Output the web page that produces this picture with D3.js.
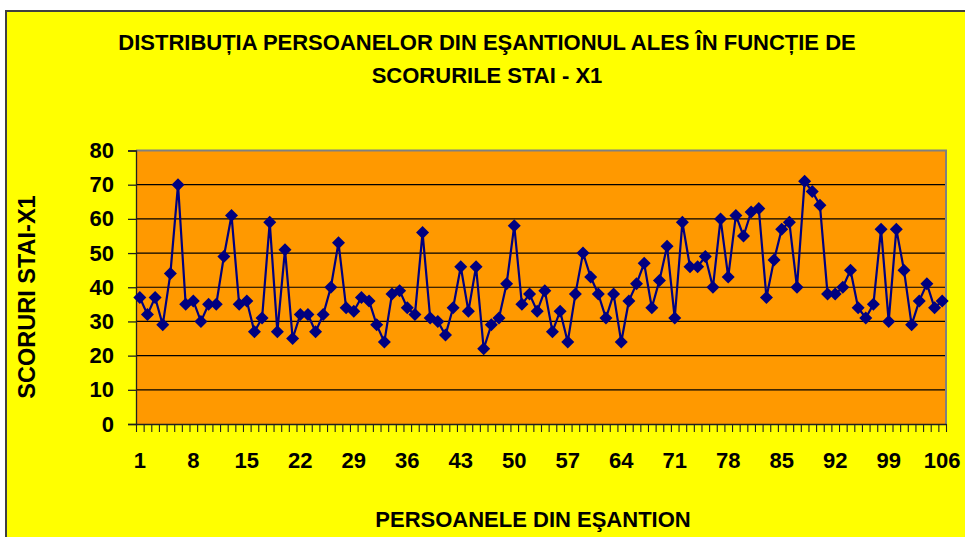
<!DOCTYPE html>
<html lang="ro">
	<head>
		<meta charset="utf-8">
		<title>D3: Distributia persoanelor - STAI X1</title>
		<script type="text/javascript" src="https://cdn.jsdelivr.net/npm/d3@7"></script>
		<style type="text/css">
			body { margin: 0; background: #ffffff; }
			svg { display: block; }
			text { font-family: "Liberation Sans", Arial, sans-serif; font-weight: bold; fill: #000; }
		</style>
	</head>
	<body>
		<script type="text/javascript">

			//Width and height
			var w = 965;
			var h = 537;

			//Data
			var titleLines = ["DISTRIBUȚIA PERSOANELOR DIN EŞANTIONUL ALES ÎN FUNCȚIE DE",
							  "SCORURILE STAI - X1"];
			var xTitle = "PERSOANELE DIN EŞANTION";
			var yTitle = "SCORURI STAI-X1";

			var scores = [37, 32, 37, 29, 44, 70, 35, 36, 30, 35,
						  35, 49, 61, 35, 36, 27, 31, 59, 27, 51,
						  25, 32, 32, 27, 32, 40, 53, 34, 33, 37,
						  36, 29, 24, 38, 39, 34, 32, 56, 31, 30,
						  26, 34, 46, 33, 46, 22, 29, 31, 41, 58,
						  35, 38, 33, 39, 27, 33, 24, 38, 50, 43,
						  38, 31, 38, 24, 36, 41, 47, 34, 42, 52,
						  31, 59, 46, 46, 49, 40, 60, 43, 61, 55,
						  62, 63, 37, 48, 57, 59, 40, 71, 68, 64,
						  38, 38, 40, 45, 34, 31, 35, 57, 30, 57,
						  45, 29, 36, 41, 34, 36];

			var persons = d3.range(1, scores.length + 1);   //1..106
			var xTickLabels = [1, 8, 15, 22, 29, 36, 43, 50, 57, 64, 71, 78, 85, 92, 99, 106];
			var yTicks = [0, 10, 20, 30, 40, 50, 60, 70, 80];

			//plot area ("top" is taken by window.top, so prefixed names)
			var plotLeft = 136, plotRight = 946, plotTop = 150.5, plotBottom = 424;

			//Create SVG element
			var svg = d3.select("body")
						.append("svg")
						.attr("width", w)
						.attr("height", h);

			//chart area (yellow), border runs off the picture right and bottom
			svg.append("rect")
			   .attr("x", 6)
			   .attr("y", 11)
			   .attr("width", w + 10)
			   .attr("height", h + 10)
			   .attr("fill", "#ffff00")
			   .attr("stroke", "#404040")
			   .attr("stroke-width", 2);

			var xScale = d3.scaleBand()
						   .domain(persons)
						   .range([plotLeft, plotRight]);

			//category boundaries, for the tick marks
			var xEdges = d3.scaleLinear()
						   .domain([0, persons.length])
						   .range([plotLeft, plotRight]);

			var yScale = d3.scaleLinear()
						   .domain([0, 80])
						   .range([plotBottom, plotTop]);

			//plot background
			svg.append("rect")
			   .attr("x", plotLeft)
			   .attr("y", plotTop)
			   .attr("width", plotRight - plotLeft)
			   .attr("height", plotBottom - plotTop)
			   .attr("fill", "#ff9900");

			//gridlines
			svg.append("g")
			   .selectAll("line")
			   .data(yTicks.slice(1, -1))
			   .enter()
			   .append("line")
			   .attr("x1", plotLeft)
			   .attr("x2", plotRight)
			   .attr("y1", function(d) { return yScale(d); })
			   .attr("y2", function(d) { return yScale(d); })
			   .attr("stroke", "#000")
			   .attr("stroke-width", 1.2);

			//gray border top and right
			svg.append("path")
			   .attr("d", "M" + plotLeft + "," + plotTop + "H" + plotRight + "V" + plotBottom)
			   .attr("fill", "none")
			   .attr("stroke", "#808080")
			   .attr("stroke-width", 2);

			//y axis
			var yAxis = d3.axisLeft(yScale)
						  .tickValues(yTicks)
						  .tickSize(8)
						  .tickPadding(14);

			var gy = svg.append("g")
						.attr("transform", "translate(" + plotLeft + ",0)")
						.call(yAxis);
			gy.selectAll("line, path").attr("stroke", "#202020").attr("stroke-width", 1.3);
			gy.selectAll("text")
			  .attr("font-size", "22px")
			  .attr("font-family", "Liberation Sans, Arial, sans-serif")
			  .attr("font-weight", "bold")
			  .attr("fill", "#000");

			//x axis tick marks at each category boundary
			var xAxis = d3.axisBottom(xEdges)
						  .tickValues(d3.range(persons.length + 1))
						  .tickFormat("")
						  .tickSizeInner(8)
						  .tickSizeOuter(0);

			var gx = svg.append("g")
						.attr("transform", "translate(0," + plotBottom + ")")
						.call(xAxis);
			gx.selectAll("line, path").attr("stroke", "#202020").attr("stroke-width", 1.1);
			gx.select("path").attr("stroke-width", 1.5);

			//x labels, every 7th person, centred on the category
			var xLabelAxis = d3.axisBottom(xScale)
							   .tickValues(xTickLabels)
							   .tickSize(0)
							   .tickPadding(28);

			var gxl = svg.append("g")
						 .attr("transform", "translate(0," + plotBottom + ")")
						 .call(xLabelAxis);
			gxl.select(".domain").remove();
			gxl.selectAll("text")
			   .attr("font-size", "22px")
			   .attr("font-family", "Liberation Sans, Arial, sans-serif")
			   .attr("font-weight", "bold")
			   .attr("fill", "#000");

			//line
			var line = d3.line()
						 .x(function(d, i) { return xScale(persons[i]) + xScale.bandwidth() / 2; })
						 .y(function(d) { return yScale(d); });

			svg.append("path")
			   .datum(scores)
			   .attr("d", line)
			   .attr("fill", "none")
			   .attr("stroke", "#000080")
			   .attr("stroke-width", 2.2);

			//diamond markers
			var dm = 6.5;
			svg.append("g")
			   .selectAll("path")
			   .data(scores)
			   .enter()
			   .append("path")
			   .attr("transform", function(d, i) {
			   		return "translate(" + (xScale(persons[i]) + xScale.bandwidth() / 2) + "," + yScale(d) + ")";
			   })
			   .attr("d", "M0," + (-dm) + "L" + dm + ",0L0," + dm + "L" + (-dm) + ",0Z")
			   .attr("fill", "#000080");

			//titles
			svg.selectAll(".title")
			   .data(titleLines)
			   .enter()
			   .append("text")
			   .attr("class", "title")
			   .attr("x", 487)
			   .attr("y", function(d, i) { return 50 + i * 33; })
			   .attr("text-anchor", "middle")
			   .attr("font-size", "22px")
			   .text(function(d) { return d; });

			svg.append("text")
			   .attr("x", 533)
			   .attr("y", 527)
			   .attr("text-anchor", "middle")
			   .attr("font-size", "22px")
			   .text(xTitle);

			svg.append("text")
			   .attr("transform", "translate(35,297) rotate(-90)")
			   .attr("text-anchor", "middle")
			   .attr("font-size", "23.5px")
			   .text(yTitle);

		</script>
	</body>
</html>
